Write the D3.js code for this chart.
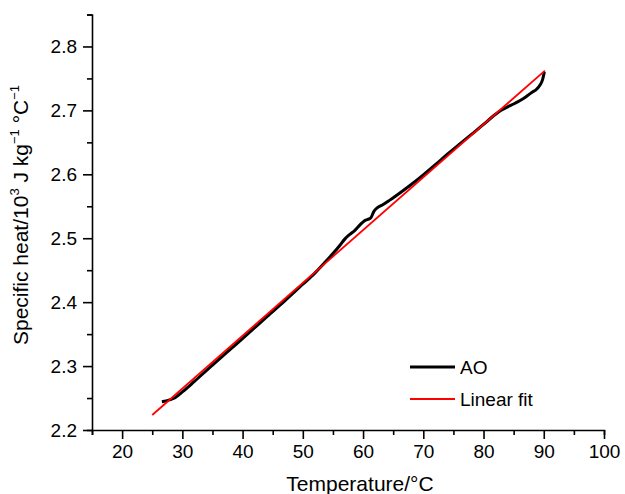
<!DOCTYPE html>
<meta charset="utf-8">
<head>
    <script src="https://d3js.org/d3.v7.min.js"></script>
    <style>
        body { margin: 0; background: white; }
        text { font-family: "Liberation Sans", Arial, Helvetica, sans-serif; fill: black; }
    </style>
</head>
<body>
<div id="chart"></div>
<script>
    // AO measured curve (temperature in degC, specific heat in 10^3 J/kg/degC)
    const aoTemp = [26.6, 27.3, 28.0, 28.8, 30, 32, 35, 38, 41, 44, 47, 50, 52, 53.5, 55, 56, 57, 57.8,
        58.6, 59.5, 60.2, 60.8, 61.3, 61.8, 62.4, 63.2, 64.5, 66, 68, 70, 72, 74, 76, 78, 80, 82,
        83, 84, 85, 86, 87, 88, 88.8, 89.4, 89.8, 90.0, 90.1];
    const aoHeat = [2.2443, 2.2455, 2.2475, 2.2505, 2.2595, 2.2760, 2.3015, 2.3265, 2.3515, 2.3770,
        2.4020, 2.4280, 2.4455, 2.4605, 2.4760, 2.4870, 2.4990, 2.5060, 2.5120, 2.5210, 2.5270,
        2.5295, 2.5320, 2.5420, 2.5480, 2.5520, 2.5600, 2.5700, 2.5840, 2.5990, 2.6150, 2.6315,
        2.6470, 2.6625, 2.6780, 2.6940, 2.7005, 2.7055, 2.7100, 2.7150, 2.7210, 2.7280, 2.7330,
        2.7400, 2.7480, 2.7560, 2.7600];

    // linear fit end points
    const fitTemp = [25, 90.2];
    const fitHeat = [2.2235, 2.7623];

    const xTicks = [20, 30, 40, 50, 60, 70, 80, 90, 100];
    const xMinor = [15, 25, 35, 45, 55, 65, 75, 85, 95];
    const yTicks = [2.2, 2.3, 2.4, 2.5, 2.6, 2.7, 2.8];
    const yMinor = [2.25, 2.35, 2.45, 2.55, 2.65, 2.75, 2.85];

    const legendData = [
        { label: "AO", color: "black", width: 3 },
        { label: "Linear fit", color: "#ff0000", width: 1.8 }
    ];

    const svg = d3.select("#chart").append("svg")
        .attr("width", 625)
        .attr("height", 494);

    const x = d3.scaleLinear().domain([15, 100]).range([92, 604]);
    const y = d3.scaleLinear().domain([2.2, 2.85]).range([430, 14.5]);

    // minor ticks (with domain line)
    svg.append("g")
        .attr("transform", "translate(0,430)")
        .call(d3.axisBottom(x).tickValues(xMinor).tickSize(5).tickSizeOuter(5).tickFormat(""))
        .call(g => g.selectAll("path, line").attr("stroke", "black").attr("stroke-width", 1.6));

    svg.append("g")
        .attr("transform", "translate(92,0)")
        .call(d3.axisLeft(y).tickValues(yMinor).tickSize(5).tickSizeOuter(5).tickFormat(""))
        .call(g => g.selectAll("path, line").attr("stroke", "black").attr("stroke-width", 1.6));

    // major ticks
    svg.append("g")
        .attr("transform", "translate(0,430)")
        .call(d3.axisBottom(x).tickValues(xTicks).tickSize(9).tickPadding(6).tickFormat(d3.format("d")))
        .call(g => g.select(".domain").remove())
        .call(g => g.selectAll("line").attr("stroke", "black").attr("stroke-width", 1.6))
        .call(g => g.selectAll("text").attr("font-size", 19).attr("font-family", null));

    svg.append("g")
        .attr("transform", "translate(92,0)")
        .call(d3.axisLeft(y).tickValues(yTicks).tickSize(9).tickPadding(6).tickFormat(d3.format(".1f")))
        .call(g => g.select(".domain").remove())
        .call(g => g.selectAll("line").attr("stroke", "black").attr("stroke-width", 1.6))
        .call(g => g.selectAll("text").attr("font-size", 19).attr("font-family", null));

    // axis titles
    svg.append("text")
        .attr("x", 360)
        .attr("y", 491)
        .attr("text-anchor", "middle")
        .attr("font-size", 21)
        .text("Temperature/°C");

    const yLabel = svg.append("text")
        .attr("transform", "translate(28,215) rotate(-90)")
        .attr("text-anchor", "middle")
        .attr("font-size", 21);
    yLabel.append("tspan").text("Specific heat/10");
    yLabel.append("tspan").attr("font-size", 13).attr("dy", -9).text("3");
    yLabel.append("tspan").attr("dy", 9).text(" J kg");
    yLabel.append("tspan").attr("font-size", 13).attr("dy", -9).text("−1");
    yLabel.append("tspan").attr("dy", 9).text(" °C");
    yLabel.append("tspan").attr("font-size", 13).attr("dy", -9).text("−1");

    // lines
    const aoData = aoTemp.map((t, i) => [t, aoHeat[i]]);
    const fitData = fitTemp.map((t, i) => [t, fitHeat[i]]);
    const line = d3.line().x(d => x(d[0])).y(d => y(d[1])).curve(d3.curveMonotoneX);

    svg.append("path")
        .datum(aoData)
        .attr("d", line)
        .attr("fill", "none")
        .attr("stroke", "black")
        .attr("stroke-width", 3)
        .attr("stroke-linejoin", "round");

    svg.append("path")
        .datum(fitData)
        .attr("d", d3.line().x(d => x(d[0])).y(d => y(d[1])))
        .attr("fill", "none")
        .attr("stroke", "#ff0000")
        .attr("stroke-width", 1.8);

    // legend
    const legend = svg.append("g").attr("transform", "translate(410,367)");

    legend.selectAll("line")
        .data(legendData)
        .enter()
        .append("line")
        .attr("x1", 0)
        .attr("x2", 45)
        .attr("y1", (d, i) => i * 32)
        .attr("y2", (d, i) => i * 32)
        .attr("stroke", d => d.color)
        .attr("stroke-width", d => d.width);

    legend.selectAll("text")
        .data(legendData)
        .enter()
        .append("text")
        .attr("x", 50)
        .attr("y", (d, i) => i * 32 + 7)
        .attr("font-size", 19)
        .text(d => d.label);
</script>
</body>
